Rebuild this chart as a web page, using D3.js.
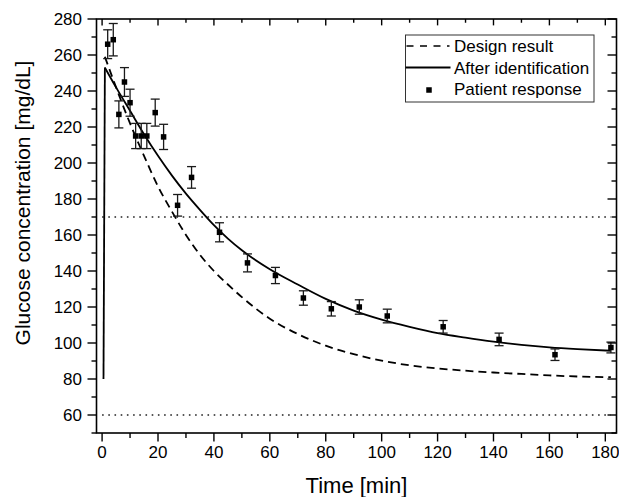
<!DOCTYPE html>
<html>
<head>
<meta charset="utf-8">
<script src="https://cdn.jsdelivr.net/npm/d3@7"></script>
<style>
  html, body { margin: 0; padding: 0; background: #fff; }
  svg { display: block; font-family: Arial, "Liberation Sans", sans-serif; }
</style>
</head>
<body>
<svg id="chart" width="619" height="497"></svg>
<script>
// Measured glucose (patient response) with standard error
const sampleTimes = [2, 4, 6, 8, 10, 12, 14, 16, 19, 22, 27, 32, 42, 52, 62, 72, 82, 92, 102, 122, 142, 162, 182];
const sampleGlucose = [266, 268.5, 227, 245, 233.5, 215, 215, 215, 228, 214.5, 176.5, 192, 161.5, 144.5, 137.5, 125, 119, 120, 115, 109, 102, 93.5, 97.5];
const sampleError = [8, 9, 7.5, 8, 7.5, 7, 7, 7, 7.5, 7, 6, 6, 5.3, 5, 4.5, 4, 4, 4, 3.8, 3.5, 3.5, 3.2, 3];

// Model response after parameter identification
const identTimes = [1, 5, 10, 15, 20, 25, 30, 35, 40, 45, 50, 60, 70, 80, 90, 100, 110, 120, 130, 140, 150, 160, 170, 182];
const identGlucose = [253, 242, 229, 216, 204, 193, 183, 174, 165.5, 158, 151.5, 141, 132.5, 124.5, 118, 113, 109, 105.5, 103, 100.8, 99, 97.6, 96.6, 95.7];
// Initial jump of the identified model (time, glucose)
const identStartTime = 0.5;
const identStartGlucose = 80;

// Model response used at design time
const designTimes = [1, 5, 10, 15, 20, 25, 30, 35, 40, 45, 50, 60, 70, 80, 90, 100, 110, 120, 130, 140, 150, 160, 170, 182];
const designGlucose = [259, 242, 222, 204, 187, 173, 160, 149, 140, 132.5, 125.5, 113.5, 105, 98.5, 93.8, 90.2, 87.6, 85.9, 84.6, 83.6, 82.8, 82, 81.4, 81];

// Target band limits
const limitLevels = [170, 60];

// Axis ticks
const xTicks = [0, 20, 40, 60, 80, 100, 120, 140, 160, 180];
const xMinorTicks = [10, 30, 50, 70, 90, 110, 130, 150, 170];
const yTicks = [60, 80, 100, 120, 140, 160, 180, 200, 220, 240, 260, 280];
const yMinorTicks = [50, 70, 90, 110, 130, 150, 170, 190, 210, 230, 250, 270];

const legendLabels = ["Design result", "After identification", "Patient response"];

const svg = d3.select("#chart");
const plotLeft = 96.5, plotRight = 616.5, plotTop = 19, plotBottom = 433;

const x = d3.scaleLinear().domain([-2, 184]).range([plotLeft, plotRight]);
const y = d3.scaleLinear().domain([50, 280]).range([plotBottom, plotTop]);

const ink = "#000";

// Limit lines (dotted)
svg.append("g").selectAll("line").data(limitLevels).join("line")
  .attr("x1", x(0)).attr("x2", x(182))
  .attr("y1", d => y(d)).attr("y2", d => y(d))
  .attr("stroke", "#222").attr("stroke-width", 1.6)
  .attr("stroke-dasharray", "1.6,4.6");

// Design curve (dashed)
const designData = designTimes.map((t, i) => [t, designGlucose[i]]);
const lineGen = d3.line().x(d => x(d[0])).y(d => y(d[1])).curve(d3.curveMonotoneX);
svg.append("path").datum(designData)
  .attr("d", lineGen)
  .attr("fill", "none").attr("stroke", ink).attr("stroke-width", 1.8)
  .attr("stroke-dasharray", "8,5");

// Identified curve (solid): jump then decay
const identData = identTimes.map((t, i) => [t, identGlucose[i]]);
svg.append("line")
  .attr("x1", x(identStartTime)).attr("x2", x(identTimes[0]))
  .attr("y1", y(identStartGlucose)).attr("y2", y(identGlucose[0]))
  .attr("stroke", ink).attr("stroke-width", 1.8);
svg.append("path").datum(identData)
  .attr("d", lineGen)
  .attr("fill", "none").attr("stroke", ink).attr("stroke-width", 1.8);

// Patient measurements with error bars
const samples = sampleTimes.map((t, i) => ({ t, v: sampleGlucose[i], e: sampleError[i] }));
const gPts = svg.append("g");
const cap = 4.5;
const errG = gPts.selectAll("g.err").data(samples).join("g").attr("class", "err")
  .attr("stroke", "#1a1a1a").attr("stroke-width", 1.3);
errG.append("line")
  .attr("x1", d => x(d.t)).attr("x2", d => x(d.t))
  .attr("y1", d => y(d.v + d.e)).attr("y2", d => y(d.v - d.e));
errG.append("line")
  .attr("x1", d => x(d.t) - cap).attr("x2", d => x(d.t) + cap)
  .attr("y1", d => y(d.v + d.e)).attr("y2", d => y(d.v + d.e));
errG.append("line")
  .attr("x1", d => x(d.t) - cap).attr("x2", d => x(d.t) + cap)
  .attr("y1", d => y(d.v - d.e)).attr("y2", d => y(d.v - d.e));
const sq = 5.5;
gPts.selectAll("rect").data(samples).join("rect")
  .attr("x", d => x(d.t) - sq / 2).attr("y", d => y(d.v) - sq / 2)
  .attr("width", sq).attr("height", sq).attr("fill", ink);

// Frame
svg.append("rect")
  .attr("x", plotLeft).attr("y", plotTop).attr("width", plotRight - plotLeft).attr("height", plotBottom - plotTop)
  .attr("fill", "none").attr("stroke", ink).attr("stroke-width", 1.6);

// Ticks: outward on bottom/left, inward on top/right
const tickG = svg.append("g").attr("stroke", ink).attr("stroke-width", 1.4);
function xTickSet(vals, len) {
  tickG.append("g").selectAll("line").data(vals).join("line")
    .attr("x1", d => x(d)).attr("x2", d => x(d)).attr("y1", plotBottom).attr("y2", plotBottom + len);
  tickG.append("g").selectAll("line").data(vals).join("line")
    .attr("x1", d => x(d)).attr("x2", d => x(d)).attr("y1", plotTop).attr("y2", plotTop + len * 0.75);
}
function yTickSet(vals, len) {
  tickG.append("g").selectAll("line").data(vals).join("line")
    .attr("y1", d => y(d)).attr("y2", d => y(d)).attr("x1", plotLeft).attr("x2", plotLeft - len);
  tickG.append("g").selectAll("line").data(vals).join("line")
    .attr("y1", d => y(d)).attr("y2", d => y(d)).attr("x1", plotRight).attr("x2", plotRight - len);
}
xTickSet(xTicks, 8.5);
xTickSet(xMinorTicks, 5);
yTickSet(yTicks, 9);
yTickSet(yMinorTicks, 5);

// Tick labels
svg.append("g").selectAll("text").data(xTicks).join("text")
  .attr("x", d => x(d)).attr("y", 458)
  .attr("text-anchor", "middle").attr("font-size", 17).attr("fill", ink)
  .text(d => d);
svg.append("g").selectAll("text").data(yTicks).join("text")
  .attr("x", 82).attr("y", d => y(d)).attr("dy", "0.36em")
  .attr("text-anchor", "end").attr("font-size", 17).attr("fill", ink)
  .text(d => d);

// Axis titles
svg.append("text")
  .attr("x", (plotLeft + plotRight) / 2).attr("y", 493)
  .attr("text-anchor", "middle").attr("font-size", 22).attr("fill", ink)
  .text("Time [min]");
svg.append("text")
  .attr("transform", "translate(29.5," + 203 + ") rotate(-90)")
  .attr("text-anchor", "middle").attr("font-size", 21).attr("fill", ink)
  .text("Glucose concentration [mg/dL]");

// Legend
const lg = svg.append("g");
const lx = 405.5, ly = 35, lw = 188.5, lh = 67;
lg.append("rect").attr("x", lx).attr("y", ly).attr("width", lw).attr("height", lh)
  .attr("fill", "#fff").attr("stroke", "#333").attr("stroke-width", 1);
const rowY = [46, 67.5, 89];
lg.append("line").attr("x1", lx + 1).attr("x2", lx + 44).attr("y1", rowY[0]).attr("y2", rowY[0])
  .attr("stroke", ink).attr("stroke-width", 1.7).attr("stroke-dasharray", "7,6.5");
lg.append("line").attr("x1", lx).attr("x2", lx + 45).attr("y1", rowY[1]).attr("y2", rowY[1])
  .attr("stroke", ink).attr("stroke-width", 1.8);
lg.append("rect").attr("x", 429 - sq / 2).attr("y", rowY[2] + 1 - sq / 2).attr("width", sq).attr("height", sq)
  .attr("fill", ink);
lg.selectAll("text").data(legendLabels).join("text")
  .attr("x", 454).attr("y", (d, i) => rowY[i]).attr("dy", "0.36em")
  .attr("font-size", 17).attr("fill", ink)
  .text(d => d);
</script>
</body>
</html>
